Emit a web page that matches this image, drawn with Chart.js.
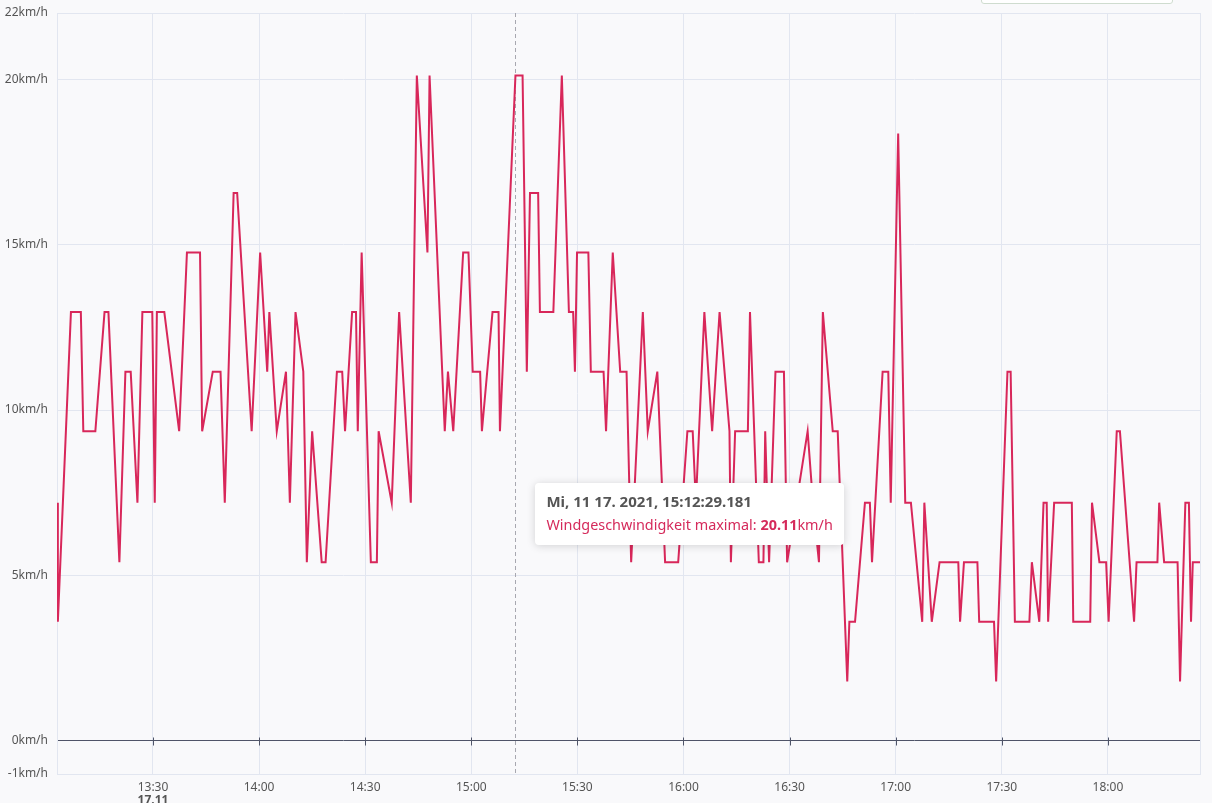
<!DOCTYPE html>
<html>
<head>
<meta charset="utf-8">
<script src="https://cdn.jsdelivr.net/npm/chart.js@4"></script>
<style>
  html, body { margin: 0; padding: 0; background: #f9f9fb; }
  #wrap { position: relative; width: 1212px; height: 803px; overflow: hidden; }
  #topbox { position: absolute; left: 981px; top: -30px; width: 190px; height: 32px; border: 1px solid #cfdccf; border-radius: 3px; background: #fff; }
  #tip { position: absolute; background: #fff; border-radius: 4px; box-shadow: 0 1px 8px rgba(0,0,0,0.16);
         padding: 7px 11px 8px 11px; font-family: "Noto Sans", "Open Sans", sans-serif; white-space: nowrap; }
  #tip .t { font-size: 15px; font-weight: bold; color: #555; line-height: 22px; }
  #tip .b { font-size: 14.4px; color: #d52a5b; line-height: 25px; }
</style>
</head>
<body>
<div id="wrap">
  <canvas id="myChart" width="1212" height="803"></canvas>
  <div id="topbox"></div>
  <div id="tip"></div>
</div>
<script>
// Wind speed max, minutes since midnight on 17.11.2021
let times = [
  782.9, 783.1, 786.8, 789.6, 790.3, 793.7, 796.3, 797.4, 800.5, 802.2,
  803.7, 805.6, 807.0, 809.8, 810.5, 811.1, 813.2, 817.4, 819.6, 823.3,
  823.9, 826.9, 829.1, 830.3, 832.8, 833.8, 837.9, 840.3, 842.3, 842.9,
  845.0, 847.6, 848.7, 850.3, 852.5, 853.5, 855.0, 857.7, 858.8, 862.0,
  863.5, 864.3, 866.3, 867.4, 867.9, 869.0, 871.6, 873.3, 873.8, 877.5,
  879.6, 882.9, 884.6, 887.6, 888.2, 892.5, 893.4, 894.9, 897.7, 899.2,
  900.4, 902.5, 903.0, 906.0, 907.7, 908.1, 912.486, 914.5, 915.7, 916.6,
  918.9, 919.4, 923.2, 925.6, 927.6, 928.8, 929.3, 929.9, 933.1, 933.8,
  937.4, 938.1, 940.0, 942.1, 943.9, 945.2, 948.5, 949.9, 952.6, 954.8,
  958.5, 961.1, 962.6, 963.5, 965.9, 968.1, 970.2, 973.0, 973.4, 974.6,
  978.2, 978.8, 981.3, 982.6, 983.1, 984.2, 986.0, 988.4, 989.3, 995.1,
  996.6, 998.3, 999.4, 1002.2, 1003.6, 1006.3, 1006.9, 1008.5, 1011.3, 1012.7,
  1013.3, 1016.3, 1017.9, 1018.6, 1020.7, 1022.7, 1024.3, 1027.5, 1028.1, 1030.2,
  1032.4, 1037.7, 1038.2, 1039.3, 1043.1, 1043.6, 1047.8, 1048.4, 1051.6, 1052.5,
  1053.7, 1057.8, 1058.5, 1060.6, 1061.8, 1062.7, 1063.1, 1064.8, 1069.8, 1070.2,
  1075.0, 1075.5, 1077.6, 1079.5, 1080.2, 1082.5, 1083.4, 1087.4, 1088.1, 1094.0,
  1094.5, 1095.9, 1099.7, 1100.4, 1101.9, 1102.9, 1103.5, 1104.0, 1106.5
];
let speeds = [
  7.2, 3.6, 12.96, 12.96, 9.36, 9.36, 12.96, 12.96, 5.4, 11.16,
  11.16, 7.2, 12.96, 12.96, 7.2, 12.96, 12.96, 9.36, 14.76, 14.76,
  9.36, 11.16, 11.16, 7.2, 16.56, 16.56, 9.36, 14.76, 11.16, 12.96,
  9.36, 11.16, 7.2, 12.96, 11.16, 5.4, 9.36, 5.4, 5.4, 11.16,
  11.16, 9.36, 12.96, 12.96, 9.36, 14.76, 5.4, 5.4, 9.36, 7.2,
  12.96, 7.2, 20.11, 14.76, 20.11, 9.36, 11.16, 9.36, 14.76, 14.76,
  11.16, 11.16, 9.36, 12.96, 12.96, 9.36, 20.11, 20.11, 11.16, 16.56,
  16.56, 12.96, 12.96, 20.11, 12.96, 12.96, 11.16, 14.76, 14.76, 11.16,
  11.16, 9.36, 14.76, 11.16, 11.16, 5.4, 12.96, 9.36, 11.16, 5.4,
  5.4, 9.36, 9.36, 7.2, 12.96, 9.36, 12.96, 9.36, 5.4, 9.36,
  9.36, 12.96, 5.4, 5.4, 9.36, 5.4, 11.16, 11.16, 5.4, 9.36,
  7.2, 5.4, 12.96, 9.36, 9.36, 1.8, 3.6, 3.6, 7.2, 7.2,
  5.4, 11.16, 11.16, 7.2, 18.36, 7.2, 7.2, 3.6, 7.2, 3.6,
  5.4, 5.4, 3.6, 5.4, 5.4, 3.6, 3.6, 1.8, 11.16, 11.16,
  3.6, 3.6, 5.4, 3.6, 7.2, 7.2, 3.6, 7.2, 7.2, 3.6,
  3.6, 7.2, 5.4, 5.4, 3.6, 9.36, 9.36, 3.6, 5.4, 5.4,
  7.2, 5.4, 5.4, 1.8, 7.2, 7.2, 3.6, 5.4, 5.4
];
let xTickLabels = ['13:30', '14:00', '14:30', '15:00', '15:30', '16:00', '16:30', '17:00', '17:30', '18:00'];
let yTickValues = [-1, 0, 5, 10, 15, 20, 22];
let dayLabel = '17.11';
let seriesLabel = 'Windgeschwindigkeit maximal';
let hoverIndex = 66;
let hoverTitle = 'Mi, 11 17. 2021, 15:12:29.181';

let toMin = s => { let p = s.split(':'); return +p[0] * 60 + +p[1]; };
let fmt = m => { let h = Math.floor(m / 60), mm = Math.round(m - h * 60); return h + ':' + String(mm).padStart(2, '0'); };

const FONT = '"Noto Sans", "Open Sans", sans-serif';
const GRID = '#e2e6f0';

const extras = {
  id: 'extras',
  beforeDatasetsDraw(chart) {
    let c = chart.ctx, a = chart.chartArea, x = chart.scales.x, y = chart.scales.y;
    c.save();
    // right frame edge
    c.strokeStyle = GRID; c.lineWidth = 1;
    c.beginPath(); c.moveTo(Math.round(a.right) + 0.5, a.top); c.lineTo(Math.round(a.right) + 0.5, a.bottom); c.stroke();
    // small ticks on the zero line
    let y0 = Math.round(y.getPixelForValue(0)) + 0.5;
    c.strokeStyle = '#4f5468';
    xTickLabels.forEach(l => {
      let px = Math.round(x.getPixelForValue(toMin(l))) + 0.5;
      c.beginPath(); c.moveTo(px, y0 - 4); c.lineTo(px, y0 + 4); c.stroke();
    });
    // hover crosshair
    let pt = chart.getDatasetMeta(0).data[hoverIndex];
    c.strokeStyle = '#a8a8b0'; c.setLineDash([4, 3]);
    c.beginPath(); c.moveTo(Math.round(pt.x) + 0.5, a.top); c.lineTo(Math.round(pt.x) + 0.5, a.bottom); c.stroke();
    c.restore();
  },
  afterDraw(chart) {
    let c = chart.ctx, x = chart.scales.x;
    c.save();
    c.font = 'bold 12px ' + FONT;
    c.fillStyle = '#555';
    c.textAlign = 'center'; c.textBaseline = 'top';
    c.fillText(dayLabel, x.getPixelForValue(toMin(xTickLabels[0])), 795);
    c.restore();
  }
};

let ctx = document.getElementById('myChart').getContext('2d');
let chart = new Chart(ctx, {
  type: 'line',
  data: {
    datasets: [{
      label: seriesLabel,
      data: times.map((t, i) => ({ x: t, y: speeds[i] })),
      borderColor: '#d8275a',
      backgroundColor: '#d8275a',
      borderWidth: 2,
      pointRadius: 0,
      tension: 0,
      fill: false
    }]
  },
  options: {
    responsive: false,
    animation: false,
    events: [],
    layout: { padding: { top: 13, right: 12, left: 0, bottom: 0 } },
    plugins: { legend: { display: false }, tooltip: { enabled: false } },
    scales: {
      x: {
        type: 'linear',
        min: 782.86,
        max: 1106.04,
        afterFit: s => { s.height = 29; },
        afterBuildTicks: s => { s.ticks = xTickLabels.map(l => ({ value: toMin(l) })); },
        grid: { color: GRID, drawTicks: false },
        border: { display: true, color: GRID },
        ticks: { padding: 6, color: '#555', font: { family: FONT, size: 12 }, maxRotation: 0, autoSkip: false, callback: v => fmt(v) }
      },
      y: {
        min: -1,
        max: 22,
        afterFit: s => { s.width = 57; s.paddingTop = 0; s.paddingBottom = 0; },
        afterBuildTicks: s => { s.ticks = yTickValues.map(v => ({ value: v })); },
        grid: { color: c => (c.tick && c.tick.value === 0 ? '#4f5468' : GRID), drawTicks: false },
        border: { display: true, color: GRID },
        ticks: { padding: 9, color: '#555', font: { family: FONT, size: 12 }, autoSkip: false, callback: v => v + 'km/h' }
      }
    }
  },
  plugins: [extras]
});

// static hover tooltip on the maximum
let pt = chart.getDatasetMeta(0).data[hoverIndex];
let tip = document.getElementById('tip');
tip.innerHTML = '<div class="t">' + hoverTitle + '</div>' +
  '<div class="b">' + seriesLabel + ': <b>' + speeds[hoverIndex] + '</b>km/h</div>';
tip.style.left = (pt.x + 20) + 'px';
tip.style.top = '483px';
</script>
</body>
</html>
